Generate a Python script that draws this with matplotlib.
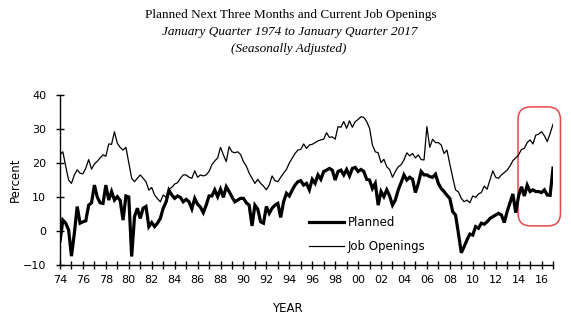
import numpy as np
import matplotlib.pyplot as plt
from matplotlib.patches import FancyBboxPatch

# quarterly series, January quarter 1974 .. January quarter 2017
START_YEAR = 1974

planned = [
    -3.0, 3.2, 2.3, 0.3,        # 1974
    -7.4, -0.7, 7.2, 2.3,       # 1975
    2.7, 3.0, 7.6, 8.3,         # 1976
    13.5, 10.0, 8.3, 8.1,       # 1977
    13.5, 9.1, 11.6, 9.1,       # 1978
    10.1, 9.0, 3.2, 10.3,       # 1979
    10.0, -7.5, 4.2, 6.7,       # 1980
    3.7, 6.7, 7.2, 1.3,         # 1981
    2.5, 1.3, 2.3, 3.7,         # 1982
    6.7, 8.5, 12.0, 10.6,       # 1983
    9.6, 10.3, 9.9, 8.6,        # 1984
    9.3, 8.6, 6.5, 9.6,         # 1985
    7.9, 7.0, 5.4, 7.6,         # 1986
    10.3, 10.3, 12.1, 10.1,     # 1987
    12.3, 9.9, 13.0, 11.6,      # 1988
    10.0, 8.6, 9.1, 9.6,        # 1989
    9.6, 8.3, 7.6, 1.5,         # 1990
    7.6, 6.4, 2.7, 2.3,         # 1991
    7.2, 5.2, 6.7, 7.6,         # 1992
    8.1, 4.0, 8.6, 11.1,        # 1993
    10.3, 12.0, 13.5, 14.5,     # 1994
    14.8, 13.5, 14.0, 12.1,     # 1995
    15.2, 14.0, 16.5, 15.2,     # 1996
    17.5, 17.9, 18.4, 17.9,     # 1997
    15.0, 17.5, 17.9, 16.5,     # 1998
    18.1, 16.2, 18.4, 18.7,     # 1999
    17.5, 18.1, 17.5, 15.2,     # 2000
    15.0, 12.5, 14.0, 7.6,      # 2001
    11.6, 10.1, 12.1, 10.3,     # 2002
    7.6, 9.1, 12.1, 14.2,       # 2003
    16.5, 15.0, 15.8, 15.2,     # 2004
    11.3, 14.0, 17.5, 16.5,     # 2005
    16.5, 16.0, 15.8, 16.7,     # 2006
    14.0, 12.5, 11.6, 10.5,     # 2007
    9.6, 5.7, 4.7, -0.7,        # 2008
    -6.4, -4.6, -2.6, -0.9,     # 2009
    -1.2, 1.3, 0.8, 2.3,        # 2010
    2.0, 2.7, 3.7, 4.2,         # 2011
    4.7, 5.2, 4.7, 2.5,         # 2012
    5.7, 8.3, 10.9, 5.4,        # 2013
    10.3, 13.0, 10.3, 13.5,     # 2014
    11.6, 12.1, 11.6, 11.6,     # 2015
    11.3, 12.1, 10.6, 10.5,     # 2016
    18.5,                       # 2017
]

job_openings = [
    22.4, 23.3, 19.0, 15.0,     # 1974
    14.0, 16.5, 18.0, 17.0,     # 1975
    16.8, 18.5, 21.0, 18.2,     # 1976
    19.7, 20.5, 21.5, 22.4,     # 1977
    22.0, 25.6, 25.5, 29.2,     # 1978
    25.8, 24.6, 23.8, 24.6,     # 1979
    20.0, 15.5, 14.5, 15.5,     # 1980
    16.5, 15.5, 14.5, 12.0,     # 1981
    12.8, 10.6, 9.5, 8.6,       # 1982
    10.6, 9.9, 12.3, 12.8,      # 1983
    13.8, 14.2, 15.5, 16.5,     # 1984
    16.5, 15.8, 15.5, 17.7,     # 1985
    15.8, 16.5, 16.2, 16.5,     # 1986
    17.5, 19.5, 20.6, 21.5,     # 1987
    24.6, 22.4, 20.4, 24.8,     # 1988
    23.3, 23.0, 23.3, 22.5,     # 1989
    20.4, 19.1, 17.0, 15.5,     # 1990
    14.0, 15.2, 14.0, 13.2,     # 1991
    12.1, 13.5, 16.2, 14.8,     # 1992
    14.5, 15.8, 17.0, 18.1,     # 1993
    20.0, 21.4, 22.8, 23.8,     # 1994
    24.0, 25.6, 24.3, 25.3,     # 1995
    25.5, 26.0, 26.5, 26.8,     # 1996
    27.0, 28.9, 27.5, 27.7,     # 1997
    27.0, 30.7, 30.5, 32.2,     # 1998
    30.2, 32.4, 30.5, 32.2,     # 1999
    32.8, 33.6, 33.4, 32.2,     # 2000
    30.2, 25.3, 23.3, 23.0,     # 2001
    20.1, 21.1, 18.9, 18.1,     # 2002
    15.8, 17.5, 18.9, 19.5,     # 2003
    20.9, 23.0, 22.1, 22.8,     # 2004
    21.5, 22.4, 21.0, 20.9,     # 2005
    30.7, 24.6, 27.0, 26.0,     # 2006
    26.0, 25.3, 22.8, 23.8,     # 2007
    19.7, 15.8, 12.1, 11.5,     # 2008
    9.6, 8.6, 9.1, 8.3,         # 2009
    10.3, 9.9, 10.9, 11.3,      # 2010
    13.2, 12.3, 15.0, 17.7,     # 2011
    15.8, 15.5, 16.5, 17.2,     # 2012
    17.9, 19.1, 20.7, 21.5,     # 2013
    22.4, 24.0, 24.3, 26.0,     # 2014
    26.8, 25.6, 28.2, 28.5,     # 2015
    29.2, 28.0, 26.3, 28.7,     # 2016
    31.4,                       # 2017
]

year_ticks = list(range(1974, 2018))
year_labels = [f"{y % 100:02d}" if (y - 1974) % 2 == 0 and y < 2017 else "" for y in year_ticks]

# highlight box around the latest years
HL_X = (2013.95, 2017.65)
HL_Y = (1.5, 36.5)

x = START_YEAR + np.arange(len(planned)) / 4.0

fig = plt.figure(figsize=(5.71, 3.28), dpi=100)
ax = fig.add_axes([60 / 571, 1 - 265 / 328, 493 / 571, 170 / 328])

ax.plot(x, planned, color='black', linewidth=2.3, label='Planned', solid_joinstyle='miter')
ax.plot(x, job_openings, color='black', linewidth=0.9, label='Job Openings')

ax.set_xlim(1974, 2017)
ax.set_ylim(-10, 40)
ax.set_yticks([-10, 0, 10, 20, 30, 40])
ax.set_xticks(year_ticks)
ax.set_xticklabels(year_labels)

for s in ['top', 'right']:
    ax.spines[s].set_visible(False)
for s in ['left', 'bottom']:
    ax.spines[s].set_linewidth(1.0)

ax.tick_params(axis='both', direction='inout', length=6, width=1.0,
               labelsize=8, colors='black')
ax.tick_params(axis='y', pad=7)
ax.tick_params(axis='x', pad=4)

ax.set_ylabel('Percent', fontsize=8.5)
ax.yaxis.set_label_coords(-0.078, 0.5)
ax.set_xlabel('YEAR', fontsize=8.5)
ax.xaxis.set_label_coords((287 - 60) / 493, -0.22)

ax.legend(loc='upper left', bbox_to_anchor=(0.495, 0.315), frameon=False,
          fontsize=8.5, handlelength=3.0, handletextpad=0.3, labelspacing=0.95,
          borderaxespad=0)

box = FancyBboxPatch((HL_X[0], HL_Y[0]), HL_X[1] - HL_X[0], HL_Y[1] - HL_Y[0],
                     boxstyle='round,pad=0,rounding_size=1.1', mutation_aspect=3.4,
                     facecolor='none', edgecolor='#e8474a', linewidth=1.1,
                     clip_on=False, transform=ax.transData)
ax.add_patch(box)

serif = ['Liberation Serif', 'DejaVu Serif']
fig.text(0.51, 1 - 15 / 328, 'Planned Next Three Months and Current Job Openings',
         ha='center', va='center', fontsize=9.5, family=serif)
fig.text(0.508, 1 - 32 / 328, 'January Quarter 1974 to January Quarter 2017',
         ha='center', va='center', fontsize=9.5, style='italic', family=serif)
fig.text(0.505, 1 - 49 / 328, '(Seasonally Adjusted)',
         ha='center', va='center', fontsize=9.5, style='italic', family=serif)

plt.savefig('out.png', dpi=100)
